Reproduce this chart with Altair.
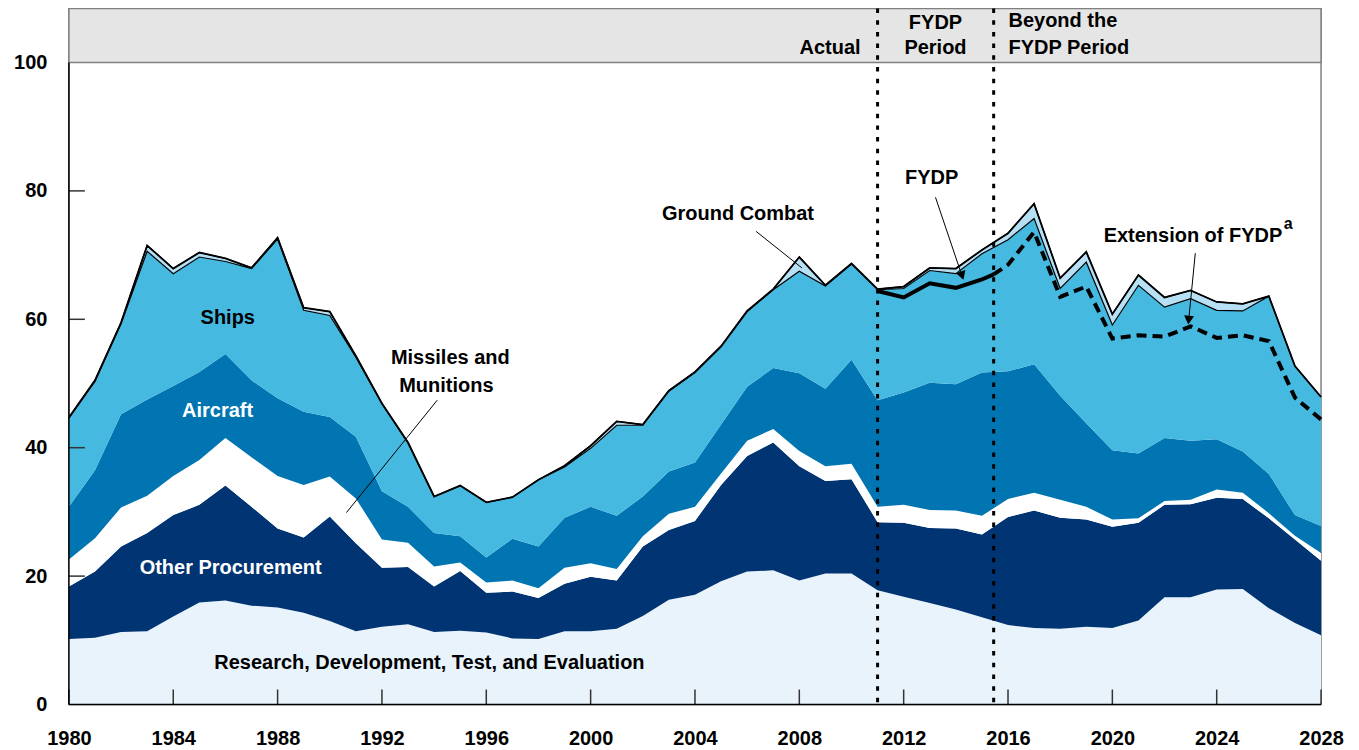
import altair as alt
import pandas as pd

years = list(range(1980, 2029))

rdte_top = [10.2, 10.4, 11.3, 11.4, 13.7, 15.9, 16.2, 15.4, 15.1, 14.3,
            13.0, 11.4, 12.1, 12.5, 11.3, 11.5, 11.2, 10.3, 10.2, 11.4,
            11.4, 11.8, 13.8, 16.3, 17.1, 19.2, 20.7, 20.9, 19.3, 20.4,
            20.4, 17.8, 16.8, 15.8, 14.8, 13.6, 12.4, 11.9, 11.8, 12.1,
            11.9, 13.1, 16.7, 16.7, 17.9, 18.0, 15.0, 12.7, 10.8]
other_top = [18.4, 20.7, 24.6, 26.7, 29.5, 31.1, 34.1, 30.8, 27.4, 26.0,
             29.3, 25.1, 21.3, 21.4, 18.4, 20.8, 17.4, 17.6, 16.6, 18.8,
             19.9, 19.3, 24.6, 27.2, 28.6, 34.2, 38.7, 40.8, 37.1, 34.8,
             35.1, 28.4, 28.3, 27.5, 27.4, 26.5, 29.2, 30.2, 29.1, 28.8,
             27.7, 28.3, 31.1, 31.2, 32.2, 32.0, 29.0, 25.7, 22.4]
missiles_top = [22.6, 25.9, 30.7, 32.5, 35.6, 38.1, 41.5, 38.5, 35.6, 34.2,
                35.5, 32.1, 25.7, 25.2, 21.5, 22.1, 19.0, 19.3, 18.1, 21.3,
                22.0, 21.1, 26.2, 29.7, 30.8, 36.0, 41.1, 42.9, 39.5, 37.1,
                37.5, 30.8, 31.1, 30.3, 30.2, 29.4, 32.0, 33.0, 31.9, 30.8,
                28.8, 29.0, 31.7, 31.9, 33.5, 33.0, 29.8, 26.3, 23.6]
aircraft_top = [30.8, 36.5, 45.2, 47.5, 49.6, 51.8, 54.6, 50.5, 47.7, 45.6,
                44.8, 41.7, 33.2, 30.8, 26.7, 26.2, 22.9, 25.8, 24.6, 29.1,
                30.8, 29.4, 32.4, 36.3, 37.7, 43.6, 49.5, 52.4, 51.6, 49.2,
                53.7, 47.4, 48.6, 50.1, 49.9, 51.7, 51.9, 53.0, 48.1, 43.8,
                39.6, 39.1, 41.5, 41.1, 41.3, 39.4, 35.9, 29.5, 27.8]
ships_top = [44.6, 50.3, 59.3, 70.6, 67.1, 69.7, 69.0, 67.9, 72.5, 61.4,
             60.6, 54.1, 46.8, 40.7, 32.4, 34.1, 31.5, 32.3, 35.0, 37.0,
             39.9, 43.5, 43.5, 48.8, 51.7, 55.7, 61.2, 64.6, 67.5, 65.2,
             68.6, 64.6, 64.8, 67.6, 67.1, 70.2, 72.4, 75.7, 64.8, 68.9,
             59.1, 65.3, 61.9, 63.2, 61.4, 61.3, 63.6, 52.7, 47.9]
total_top = [44.7, 50.5, 59.5, 71.5, 67.9, 70.4, 69.5, 68.0, 72.7, 61.8,
             61.2, 54.3, 46.9, 40.8, 32.4, 34.1, 31.5, 32.3, 35.0, 37.2,
             40.3, 44.1, 43.6, 48.9, 51.8, 55.8, 61.3, 64.7, 69.7, 65.3,
             68.7, 64.7, 65.1, 68.0, 67.9, 70.8, 73.4, 78.0, 66.4, 70.5,
             60.8, 66.9, 63.4, 64.5, 62.7, 62.4, 63.6, 52.7, 47.9]

fydp_years = [2011, 2012, 2013, 2014, 2015, 2015.45]
fydp_vals = [64.4, 63.4, 65.6, 64.9, 66.2, 67.0]
ext_years = [2015.45, 2016, 2017, 2018, 2019, 2020, 2021, 2022, 2023, 2024,
             2025, 2026, 2027, 2028]
ext_vals = [67.0, 68.5, 73.6, 63.5, 65.1, 57.0, 57.5, 57.3, 58.9, 57.1,
            57.5, 56.6, 47.8, 44.4]

series = ["Research", "Other Procurement", "Missiles and Munitions",
          "Aircraft", "Ships", "Ground Combat"]
colors = ["#E8F3FC", "#003473", "#FFFFFF", "#0075B2", "#45B9E0", "#B8E0F5"]

period_breaks = [2011, 2015.45]
x_tick_values = list(range(1980, 2029, 4))
y_tick_values = [0, 20, 40, 60, 80, 100]

FONT = "Liberation Sans"
W, H = 1254, 697
Y_TOP = 108.4

# ---- build tables ----
bounds = [[0.0] * len(years), rdte_top, other_top, missiles_top,
          aircraft_top, ships_top, total_top]
rows = []
for k, s in enumerate(series):
    for i, yr in enumerate(years):
        rows.append({"series": s, "order": k, "year": yr,
                     "lo": bounds[k][i], "hi": bounds[k + 1][i]})
areas_df = pd.DataFrame(rows)
tot_df = pd.DataFrame({"year": years, "v": total_top})
fydp_df = pd.DataFrame({"year": fydp_years, "v": fydp_vals})
ext_df = pd.DataFrame({"year": ext_years, "v": ext_vals})
one = pd.DataFrame({"k": [0]})

xs = alt.Scale(domain=[1980, 2028], nice=False, zero=False)
ys = alt.Scale(domain=[0, Y_TOP], nice=False, zero=True)


def X(field="year:Q"):
    return alt.X(field, scale=xs, title=None)


def Y(field="v:Q"):
    return alt.Y(field, scale=ys, title=None)


header = alt.Chart(one).mark_rect(fill="#E5E5E5", stroke="#808080", strokeWidth=1.5).encode(
    x=alt.value(0), x2=alt.value(W), y=alt.datum(Y_TOP), y2=alt.datum(100)
)

base_areas = alt.Chart(areas_df).transform_filter(
    alt.datum.series != "Ground Combat"
).mark_area(interpolate="linear").encode(
    x=alt.X("year:Q", scale=xs, title=None,
            axis=alt.Axis(values=x_tick_values, format="d", ticks=False, domain=False,
                          grid=False, labelPadding=24, labelFlush=False,
                          labelOverlap=False, labelBound=False)),
    y=alt.Y("lo:Q", scale=ys, title=None,
            axis=alt.Axis(values=y_tick_values, ticks=False, domain=False, grid=False,
                          labelPadding=22)),
    y2="hi:Q",
    color=alt.Color("series:N", scale=alt.Scale(domain=series, range=colors), legend=None),
    detail="series:N",
)

ground = alt.Chart(areas_df).transform_filter(
    alt.datum.series == "Ground Combat"
).mark_area(interpolate="linear", fill="#B8E0F5", stroke="black", strokeWidth=1.2).encode(
    x=X(), y=Y("lo:Q"), y2="hi:Q",
)

total_line = alt.Chart(tot_df).mark_line(color="black", strokeWidth=1.8).encode(x=X(), y=Y())

fydp_line = alt.Chart(fydp_df).mark_line(color="black", strokeWidth=4).encode(x=X(), y=Y())
ext_line = alt.Chart(ext_df).mark_line(color="black", strokeWidth=4, strokeDash=[10, 6]).encode(
    x=X(), y=Y()
)

dotted = alt.Chart(pd.DataFrame({"year": period_breaks})).mark_rule(
    color="black", strokeWidth=3, strokeDash=[4.5, 7.2]
).encode(x=X(), y=alt.value(0), y2=alt.value(H))

ytick_df = pd.DataFrame({"v": [20, 40, 60, 80]})
yticks = alt.Chart(ytick_df).mark_rule(color="#333333", strokeWidth=1.5).encode(
    y=Y(), x=alt.value(0), x2=alt.value(16)
)
xticks = alt.Chart(pd.DataFrame({"year": x_tick_values})).mark_rule(
    color="#333333", strokeWidth=1.5
).encode(x=X(), y=alt.value(H), y2=alt.value(H - 15))

left_axis = alt.Chart(one).mark_rule(color="black", strokeWidth=1.5).encode(
    x=alt.value(0), y=alt.datum(0), y2=alt.datum(100)
)
bottom_axis = alt.Chart(one).mark_rule(color="black", strokeWidth=1.5).encode(
    y=alt.datum(0), x=alt.value(0), x2=alt.value(W)
)

# ---- annotations ----
center_labels = pd.DataFrame({
    "year": [1986.09, 1985.70, 1986.2, 1993.82, 1994.62, 1994.47, 2005.65, 2013.07,
             2023.09, 2013.22, 2013.22],
    "v": [60.2, 45.7, 21.3, 6.5, 54.0, 49.6, 76.4, 82.0, 73.0, 106.1, 102.3],
    "text": ["Ships", "Aircraft", "Other Procurement",
             "Research, Development, Test, and Evaluation",
             "Missiles and", "Munitions", "Ground Combat", "FYDP",
             "Extension of FYDP", "FYDP", "Period"],
    "col": ["black", "white", "white", "black", "black", "black", "black", "black",
            "black", "black", "black"],
})
center_text = alt.Chart(center_labels).mark_text(
    font=FONT, fontSize=20, fontWeight="bold", align="center", baseline="middle"
).encode(x=X(), y=Y(), text="text:N", color=alt.Color("col:N", scale=None))

right_text = alt.Chart(pd.DataFrame({"year": [2010.35], "v": [102.2], "text": ["Actual"]})).mark_text(
    font=FONT, fontSize=20, fontWeight="bold", align="right", baseline="middle", color="black"
).encode(x=X(), y=Y(), text="text:N")

left_text = alt.Chart(pd.DataFrame({"year": [2016.02, 2016.02], "v": [106.4, 102.2],
                                    "text": ["Beyond the", "FYDP Period"]})).mark_text(
    font=FONT, fontSize=20, fontWeight="bold", align="left", baseline="middle", color="black"
).encode(x=X(), y=Y(), text="text:N")

sup_text = alt.Chart(pd.DataFrame({"year": [2026.74], "v": [74.8], "text": ["a"]})).mark_text(
    font=FONT, fontSize=16, fontWeight="bold", align="center", baseline="middle", color="black"
).encode(x=X(), y=Y(), text="text:N")

leaders = pd.DataFrame({
    "year": [1994.12, 2006.34, 2013.22, 2023.18],
    "v": [47.4, 73.7, 79.0, 70.3],
    "year2": [1990.64, 2008.1, 2014.25, 2022.92],
    "v2": [29.9, 68.0, 66.6, 59.6],
})
leader_lines = alt.Chart(leaders).mark_rule(color="black", strokeWidth=1).encode(
    x=X(), y=Y(), x2="year2:Q", y2="v2:Q"
)

heads = pd.DataFrame({"year": [2014.22, 2022.93], "v": [67.0, 60.1], "ang": [161.3, 185.6]})
arrowheads = alt.Chart(heads).mark_point(shape="triangle", filled=True, color="black",
                                         size=100, opacity=1).encode(
    x=X(), y=Y(), angle=alt.Angle("ang:Q", scale=None)
)

chart = alt.layer(
    header, base_areas, ground, total_line, fydp_line, ext_line, dotted,
    yticks, xticks, left_axis, bottom_axis,
    center_text, right_text, left_text, sup_text, leader_lines, arrowheads
).properties(
    width=W, height=H,
    autosize=alt.AutoSizeParams(type="none"),
    padding={"left": 61, "top": 0, "right": 30, "bottom": 44},
).configure_view(
    stroke="#808080", strokeWidth=1.5
).configure_axis(
    labelFont=FONT, labelFontSize=20, labelFontWeight="bold", labelColor="black"
).configure_axisY(
    labelAlign="right", labelBaseline="middle"
)

chart.save("out.html", embed_options={"renderer": "svg", "actions": False})
